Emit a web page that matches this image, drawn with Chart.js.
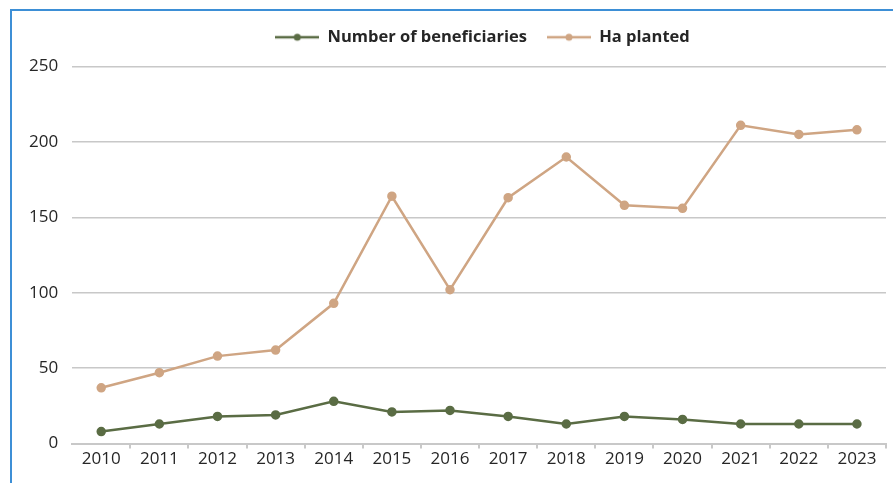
<!DOCTYPE html>
<html>
<head>
<meta charset="utf-8">
<script src="https://cdn.jsdelivr.net/npm/chart.js@4.4.1/dist/chart.umd.min.js"></script>
<style>
  html, body { margin: 0; padding: 0; background: #fff; }
  #wrap { position: relative; width: 893px; height: 483px; }
  #frame {
    position: absolute; left: 10px; top: 9px; right: -5px; bottom: -5px;
    border-top: 2px solid #3d8fd6; border-left: 2px solid #3d8fd6;
  }
  canvas { position: absolute; left: 0; top: 0; }
</style>
</head>
<body>
<div id="wrap">
  <div id="frame"></div>
  <canvas id="myChart" width="893" height="483"></canvas>
</div>
<script>
const years = ["2010", "2011", "2012", "2013", "2014", "2015", "2016",
               "2017", "2018", "2019", "2020", "2021", "2022", "2023"];
const beneficiaries = [8, 13, 18, 19, 28, 21, 22, 18, 13, 18, 16, 13, 13, 13];
const haPlanted = [37, 47, 58, 62, 93, 164, 102, 163, 190, 158, 156, 211, 205, 208];

const green = "#5a6c44";
const tan = "#cfa583";

// little line-with-dot swatch for the legend
function swatch(color) {
  let c = document.createElement("canvas");
  c.width = 44;
  c.height = 10;
  let ctx = c.getContext("2d");
  ctx.strokeStyle = color;
  ctx.lineWidth = 2.5;
  ctx.beginPath();
  ctx.moveTo(0, 5);
  ctx.lineTo(44, 5);
  ctx.stroke();
  ctx.fillStyle = color;
  ctx.beginPath();
  ctx.arc(22, 5, 3.5, 0, Math.PI * 2);
  ctx.fill();
  return c;
}

// nudge the legend: a bit right and up, like the original
const legendShift = {
  id: "legendShift",
  afterLayout(chart) {
    chart.legend.left += 64;
    chart.legend.top -= 11;
  }
};

new Chart(document.getElementById("myChart"), {
  type: "line",
  data: {
    labels: years,
    datasets: [
      {
        label: "Number of beneficiaries",
        data: beneficiaries,
        borderColor: green,
        backgroundColor: green,
        borderWidth: 2.5,
        pointRadius: 3.5
      },
      {
        label: "Ha planted",
        data: haPlanted,
        borderColor: tan,
        backgroundColor: tan,
        borderWidth: 2.5,
        pointRadius: 3.5
      }
    ]
  },
  options: {
    responsive: false,
    animation: false,
    layout: { padding: { left: 15, right: 7, top: 20, bottom: 14 } },
    plugins: {
      tooltip: { enabled: false },
      legend: {
        position: "top",
        labels: {
          usePointStyle: true,
          pointStyleWidth: 44,
          padding: 20,
          color: "#262626",
          font: { family: "Open Sans", size: 16.5, weight: "bold" },
          generateLabels(chart) {
            let items = Chart.defaults.plugins.legend.labels.generateLabels(chart);
            items.forEach((it) => {
              it.pointStyle = swatch(it.strokeStyle);
            });
            return items;
          }
        }
      }
    },
    scales: {
      x: {
        offset: true,
        border: { color: "#c8c8c8", width: 2 },
        grid: {
          offset: true,
          drawOnChartArea: false,
          drawTicks: true,
          tickLength: 5,
          lineWidth: 2,
          color: (ctx) => ctx.index === 0 ? "rgba(0,0,0,0)" : "#c8c8c8"
        },
        ticks: {
          color: "#262626",
          padding: 0,
          maxRotation: 0,
          font: { family: "Open Sans", size: 17 }
        }
      },
      y: {
        min: 0,
        max: 250,
        border: { display: false },
        grid: { color: "#c8c8c8", lineWidth: 1.5, drawTicks: false },
        ticks: {
          stepSize: 50,
          padding: 14,
          color: "#262626",
          font: { family: "Open Sans", size: 17 }
        }
      }
    }
  },
  plugins: [legendShift]
});
</script>
</body>
</html>
